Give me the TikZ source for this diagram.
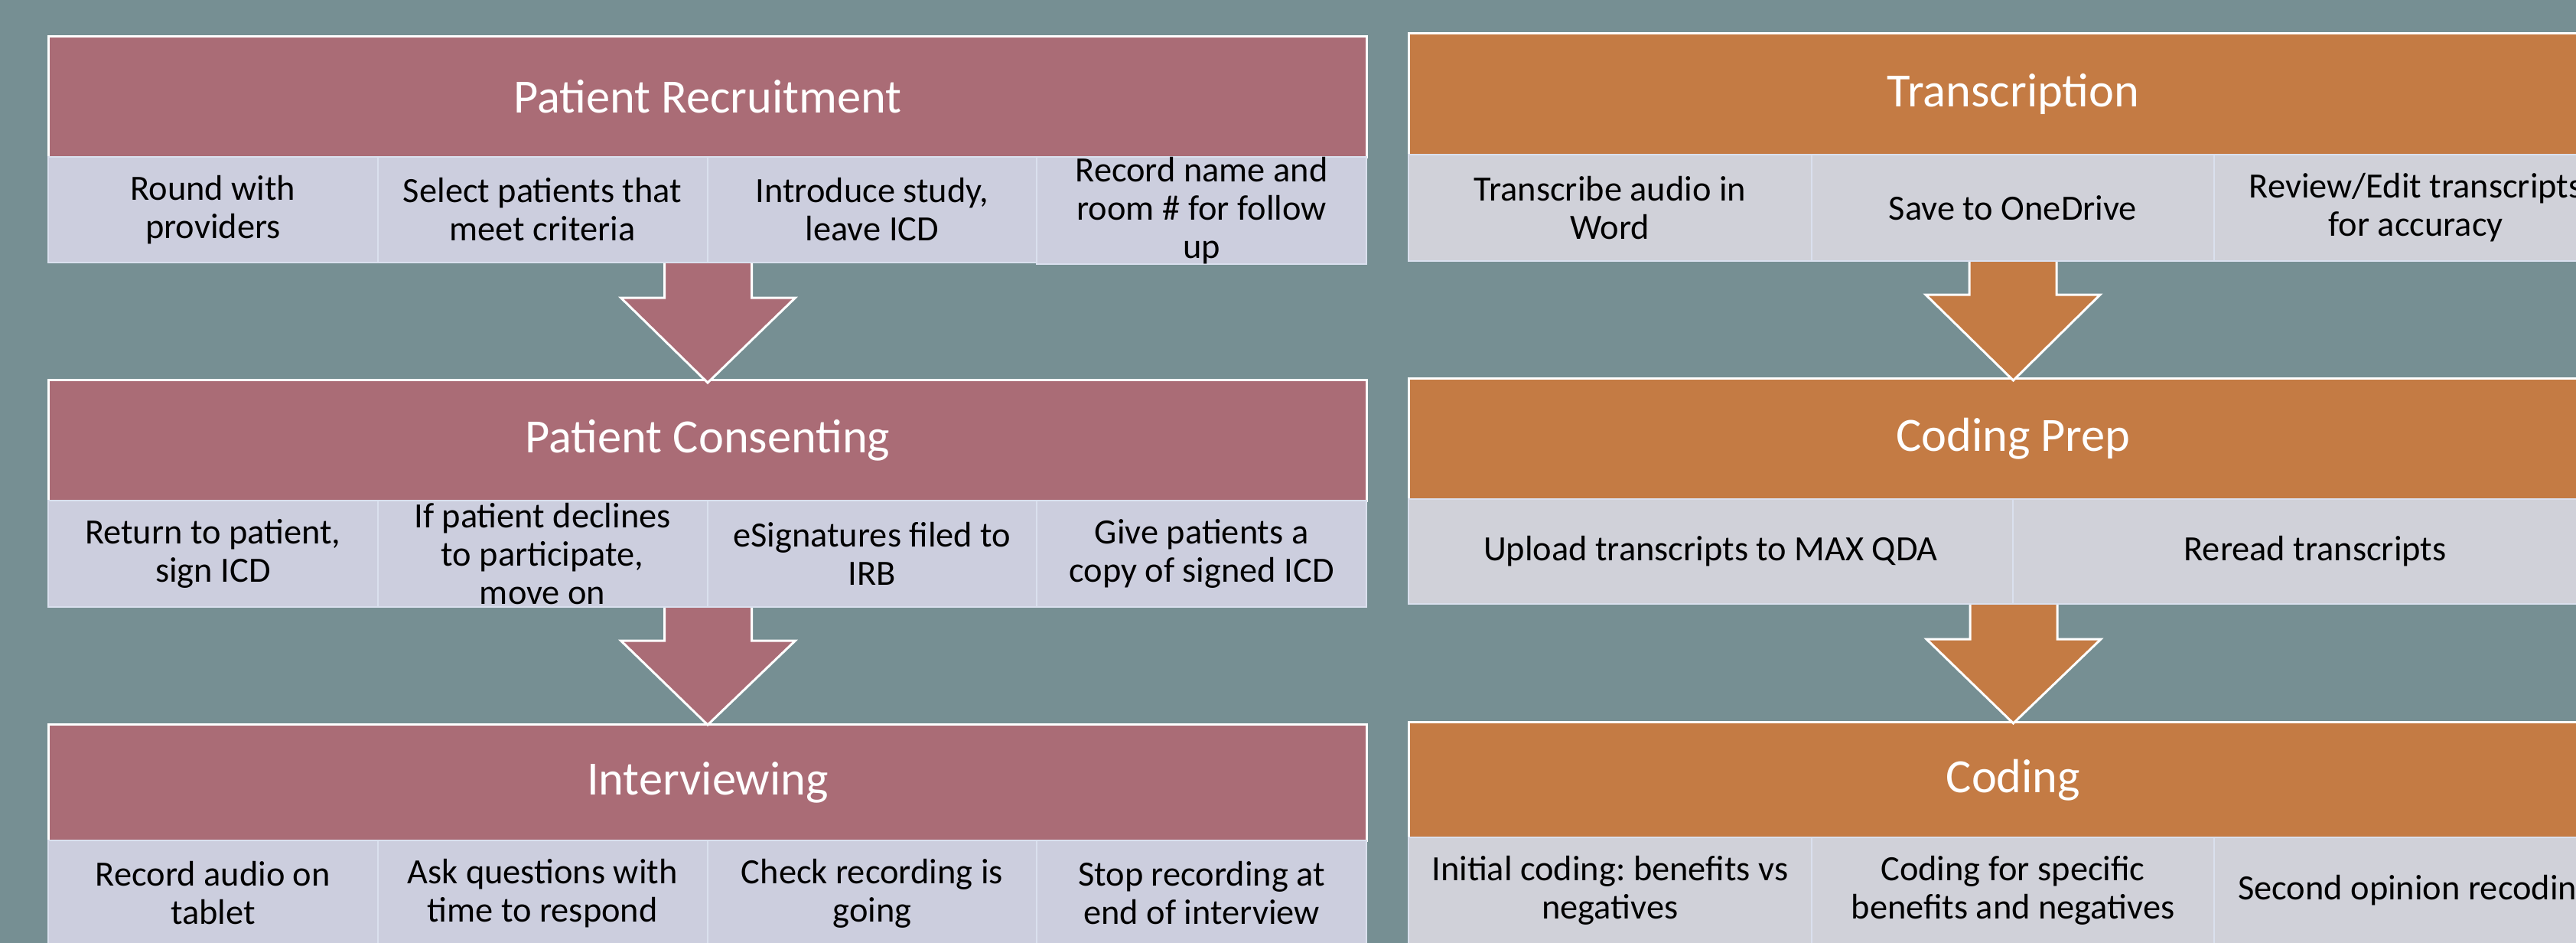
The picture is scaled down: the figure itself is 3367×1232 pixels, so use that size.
\documentclass[tikz,border=0pt]{standalone}
\usepackage{fontspec}
\setmainfont{Carlito}
\usetikzlibrary{calc}
\frenchspacing
\definecolor{bg}{RGB}{118,143,147}
\definecolor{rose}{RGB}{170,108,118}
\definecolor{ochre}{RGB}{196,123,68}
\definecolor{cellL}{RGB}{204,206,222}
\definecolor{cellR}{RGB}{208,209,217}
\definecolor{cellline}{RGB}{218,224,238}
\tikzset{
  hdr/.style={anchor=north west, draw=white, line width=0.75pt, inner sep=0pt,
    text=white, font=\fontsize{15.6}{18}\selectfont},
  hdrL/.style={hdr, fill=rose, minimum width=430.75pt},
  hdrR/.style={hdr, fill=ochre, minimum width=395pt},
  cell/.style={anchor=north west, draw=cellline, line width=0.5pt, inner sep=0pt,
    align=center, text=black, font=\fontsize{11.6}{12.5}\selectfont},
  cellLs/.style={cell, fill=cellL, minimum width=107.6875pt},
  cellR3/.style={cell, fill=cellR, minimum width=131.667pt},
  cellR2/.style={cell, fill=cellR, minimum width=197.5pt},
  arrL/.style={fill=rose, draw=white, line width=0.75pt, line join=miter},
  arrR/.style={fill=ochre, draw=white, line width=0.75pt, line join=miter}
}
\begin{document}
\begin{tikzpicture}[x=0.25pt,y=-0.25pt]
\useasboundingbox (0,0) rectangle (3367,1232);
\clip (0,0) rectangle (3367,1232);
\fill[bg] (0,0) rectangle (3367,1232);

% ---------- Left panel ----------
\node[hdrL, minimum height=39.5pt] (LH1) at (62,46) {Patient Recruitment};
\node[cellLs, minimum height=34.5pt] (L1a) at (62,204) {Round with\\providers};
\node[cellLs, minimum height=34.5pt] (L1b) at (492.75,204) {Select patients that\\meet criteria};
\node[cellLs, minimum height=34.5pt] (L1c) at (923.5,204) {Introduce study,\\leave ICD};
\node[cellLs, minimum height=34.5pt] (L1d) at (1354.25,204) {Record name and\\room \# for follow\\up};

\node[hdrL, minimum height=39.5pt] (LH2) at (62,495) {Patient Consenting};
\node[cellLs, minimum height=34.75pt] (L2a) at (62,653) {Return to patient,\\sign ICD};
\node[cellLs, minimum height=34.75pt] (L2b) at (492.75,653) {If patient declines\\to participate,\\move on};
\node[cellLs, minimum height=34.75pt] (L2c) at (923.5,653) {eSignatures filed to\\IRB};
\node[cellLs, minimum height=34.75pt] (L2d) at (1354.25,653) {Give patients a\\copy of signed ICD};

\node[hdrL, minimum height=38pt] (LH3) at (62,945) {Interviewing};
\node[cellLs, minimum height=34.5pt] (L3a) at (62,1097) {Record audio on\\tablet};
\node[cellLs, minimum height=34.5pt] (L3b) at (492.75,1097) {Ask questions with\\time to respond};
\node[cellLs, minimum height=34.5pt] (L3c) at (923.5,1097) {Check recording is\\going};
\node[cellLs, minimum height=34.5pt] (L3d) at (1354.25,1097) {Stop recording at\\end of interview};

% ---------- Right panel ----------
\node[hdrR, minimum height=39.75pt] (RH1) at (1840,42) {Transcription};
\node[cellR3, minimum height=34.75pt] (R1a) at (1840,201) {Transcribe audio in\\Word};
\node[cellR3, minimum height=34.75pt] (R1b) at (2366.67,201) {Save to OneDrive};
\node[cellR3, minimum height=34.75pt] (R1c) at (2893.33,201) {Review/Edit transcripts\\for accuracy};

\node[hdrR, minimum height=39.5pt] (RH2) at (1840,493) {Coding Prep};
\node[cellR2, minimum height=34.25pt] (R2a) at (1840,651) {Upload transcripts to MAX QDA};
\node[cellR2, minimum height=34.25pt] (R2b) at (2630,651) {Reread transcripts};

\node[hdrR, minimum height=37.75pt] (RH3) at (1840,942) {Coding};
\node[cellR3, minimum height=34.75pt] (R3a) at (1840,1093) {Initial coding: benefits vs\\negatives};
\node[cellR3, minimum height=34.75pt] (R3b) at (2366.67,1093) {Coding for specific\\benefits and negatives};
\node[cellR3, minimum height=34.75pt] (R3c) at (2893.33,1093) {Second opinion recoding};

% ---------- Arrows ----------
\filldraw[arrL] ($(L1b.south east)+(-57,0)$) -- ++(0,45) -- ++(-57,0)
  -- ($(LH2.north)+(0,5)$) -- ($(L1b.south east)+(114,45)$) -- ++(-57,0) -- ++(0,-45);
\filldraw[arrL] ($(L2b.south east)+(-57,0)$) -- ++(0,43) -- ++(-57,0)
  -- ($(LH3.north)+(0,2)$) -- ($(L2b.south east)+(114,43)$) -- ++(-57,0) -- ++(0,-43);
\filldraw[arrR] ($(R1b.south)+(-57,0)$) -- ++(0,43) -- ++(-57,0)
  -- ($(RH2.north)+(0,4)$) -- ($(R1b.south)+(114,43)$) -- ++(-57,0) -- ++(0,-43);
\filldraw[arrR] ($(R2a.south east)+(-57,0)$) -- ++(0,45) -- ++(-57,0)
  -- ($(RH3.north)+(0,3)$) -- ($(R2a.south east)+(114,45)$) -- ++(-57,0) -- ++(0,-45);
\end{tikzpicture}
\end{document}
